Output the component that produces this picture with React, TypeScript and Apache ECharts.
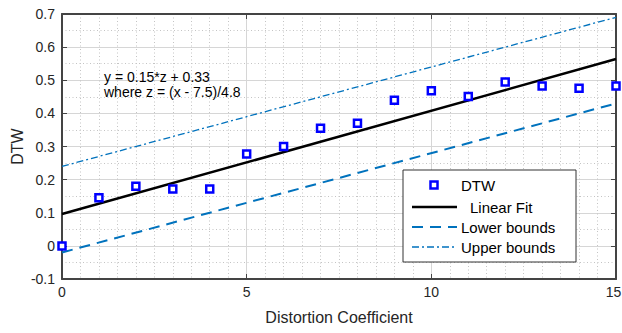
import React, { useEffect, useRef } from "react";
import * as echarts from "echarts";

const xValues = [0, 1, 2, 3, 4, 5, 6, 7, 8, 9, 10, 11, 12, 13, 14, 15];
const dtwValues = [0, 0.145, 0.18, 0.172, 0.172, 0.277, 0.3, 0.355, 0.37, 0.44, 0.468, 0.451, 0.495, 0.483, 0.476, 0.483];
const lineX = [0, 15];
const fitValues = [0.096, 0.564];
const lowerValues = [-0.02, 0.43];
const upperValues = [0.24, 0.69];
const legendLabels = ["DTW", "Linear Fit", "Lower bounds", "Upper bounds"];
const annotationLines = ["y = 0.15*z + 0.33", "where z = (x - 7.5)/4.8"];

const FONT = "'Liberation Sans', Arial, Helvetica, sans-serif";
const BLUE = "#0072BD";

export default function App() {
  const ref = useRef<HTMLDivElement>(null);
  useEffect(() => {
    if (!ref.current) return;
    const chart = echarts.init(ref.current, undefined, { renderer: "svg" });
    const pairs = (xs: number[], ys: number[]) => xs.map((x, i) => [x, ys[i]]);
    const lx = 412, lx2 = 457;
    const rows = [185, 207, 227, 247];
    const option: any = {
      animation: false,
      textStyle: { fontFamily: FONT },
      grid: { left: 62, right: 6, top: 14, bottom: 54, show: false, containLabel: false, outerBoundsMode: "none" },
      xAxis: [
        {
          type: "value", min: 0, max: 15, interval: 5, position: "bottom",
          name: "Distortion Coefficient", nameLocation: "middle", nameGap: 30, nameMoveOverlap: false,
          nameTextStyle: { fontSize: 16, color: "#262626", fontFamily: FONT },
          axisLine: { show: true, onZero: false, lineStyle: { color: "#444", width: 2 } },
          axisTick: { show: true, inside: true, length: 5, lineStyle: { color: "#444" } },
          axisLabel: {
            fontSize: 14, color: "#262626", margin: 6, fontFamily: FONT,
            formatter: (v: number) => (v === 15 ? `{e|${v}}` : String(v)),
            rich: { e: { fontSize: 14, color: "#262626", fontFamily: FONT, padding: [0, 5, 0, 0] } },
          },
          splitLine: { show: true, lineStyle: { color: "#d6d6d6", width: 1 } },
          minorTick: { show: false, splitNumber: 10 },
          minorSplitLine: { show: true, lineStyle: { color: "#c4c4c4", type: [1, 2.5], width: 1 } },
        },
        {
          type: "value", min: 0, max: 15, interval: 5, position: "top",
          axisLine: { show: true, onZero: false, lineStyle: { color: "#444", width: 2 } },
          axisTick: { show: true, inside: true, length: 5, lineStyle: { color: "#444" } },
          axisLabel: { show: false },
          splitLine: { show: false },
        },
      ],
      yAxis: [
        {
          type: "value", min: -0.1, max: 0.7, interval: 0.1, position: "left",
          name: "DTW", nameLocation: "middle", nameGap: 37, nameMoveOverlap: false,
          nameTextStyle: { fontSize: 16, color: "#262626", fontFamily: FONT },
          axisLine: { show: true, onZero: false, lineStyle: { color: "#444", width: 2 } },
          axisTick: { show: true, inside: true, length: 5, lineStyle: { color: "#444" } },
          axisLabel: {
            fontSize: 14, color: "#262626", margin: 7, fontFamily: FONT,
            formatter: (v: number) => String(Math.round(v * 10) / 10),
          },
          splitLine: { show: true, lineStyle: { color: "#d6d6d6", width: 1 } },
          minorTick: { show: false, splitNumber: 2 },
          minorSplitLine: { show: true, lineStyle: { color: "#c4c4c4", type: [1, 2.5], width: 1 } },
        },
        {
          type: "value", min: -0.1, max: 0.7, interval: 0.1, position: "right",
          axisLine: { show: true, onZero: false, lineStyle: { color: "#444", width: 2 } },
          axisTick: { show: true, inside: true, length: 5, lineStyle: { color: "#444" } },
          axisLabel: { show: false },
          splitLine: { show: false },
        },
      ],
      series: [
        {
          name: "Upper bounds", type: "line", data: pairs(lineX, upperValues), showSymbol: false,
          lineStyle: { color: BLUE, width: 1.3, type: [7, 3, 2, 3] }, z: 3,
        },
        {
          name: "Lower bounds", type: "line", data: pairs(lineX, lowerValues), showSymbol: false,
          lineStyle: { color: BLUE, width: 2, type: [11, 7] }, z: 3,
        },
        {
          name: "Linear Fit", type: "line", data: pairs(lineX, fitValues), showSymbol: false,
          lineStyle: { color: "#000", width: 2.5 }, z: 4,
        },
        {
          name: "DTW", type: "scatter", data: pairs(xValues, dtwValues), symbol: "rect", symbolSize: 7,
          itemStyle: { color: "#fff", borderColor: "#0000ff", borderWidth: 2.5, opacity: 1 }, z: 5,
        },
      ],
      graphic: [
        {
          type: "text", left: 104, top: 69, z: 10,
          style: { text: annotationLines.join("\n"), lineHeight: 15, fill: "#000", font: `14px ${FONT}` },
        },
        {
          type: "rect", shape: { x: 403, y: 170, width: 173, height: 92 }, z: 20,
          style: { fill: "#fff", stroke: "#333", lineWidth: 1 },
        },
        {
          type: "rect", shape: { x: 430.5, y: rows[0] - 3.5, width: 7, height: 7 }, z: 21,
          style: { fill: "#fff", stroke: "#0000ff", lineWidth: 2.5 },
        },
        { type: "line", shape: { x1: lx, y1: rows[1], x2: lx2, y2: rows[1] }, z: 21, style: { stroke: "#000", lineWidth: 2.5 } },
        { type: "line", shape: { x1: lx, y1: rows[2], x2: lx2, y2: rows[2] }, z: 21, style: { stroke: BLUE, lineWidth: 2, lineDash: [11, 7] } },
        { type: "line", shape: { x1: lx, y1: rows[3], x2: lx2, y2: rows[3] }, z: 21, style: { stroke: BLUE, lineWidth: 1.3, lineDash: [7, 3, 2, 3] } },
        ...legendLabels.map((t, i) => ({
          type: "text", z: 21, x: i === 1 ? 470 : 461, y: rows[i],
          style: { text: t, font: `15px ${FONT}`, fill: "#000", verticalAlign: "middle", align: "left" },
        })),
      ],
    };
    chart.setOption(option);
    return () => chart.dispose();
  }, []);
  return <div ref={ref} style={{ width: 622, height: 333, position: "absolute", left: 0, top: 0 }} />;
}
